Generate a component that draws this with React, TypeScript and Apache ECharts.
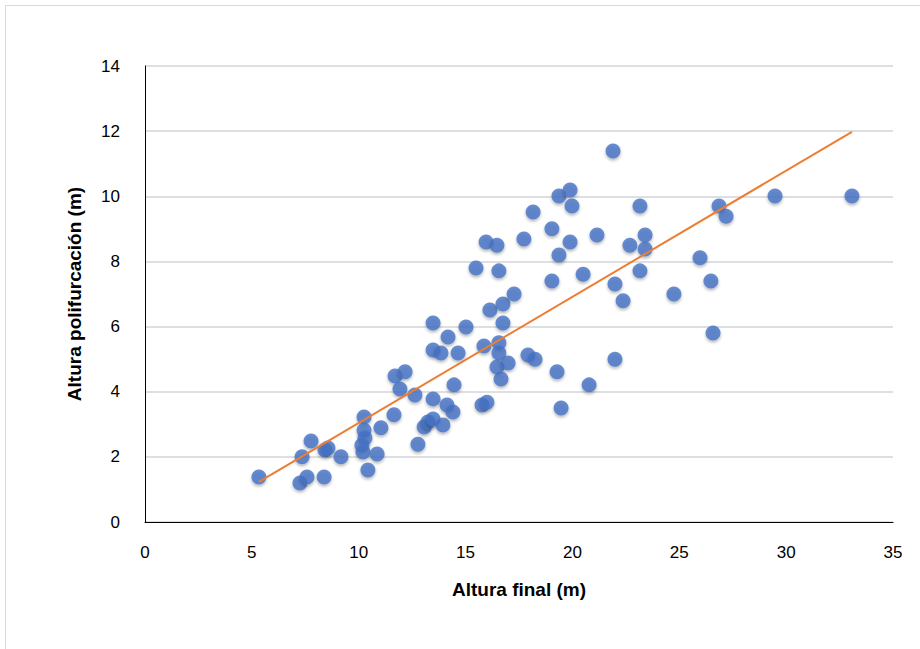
import React, { useEffect, useRef } from "react";
import * as echarts from "echarts";

const alturaFinal = [
  5.33, 7.25, 7.58, 7.35, 7.77, 8.38, 8.42, 8.56, 9.17, 10.25,
  10.25, 10.29, 10.15, 10.2, 10.86, 10.43, 11.04, 11.65, 11.7, 12.17,
  11.93, 12.63, 12.77, 13.06, 13.24, 13.48, 13.94, 13.48, 14.13, 14.41,
  14.46, 14.18, 13.48, 13.85, 14.65, 13.48, 15.02, 15.49, 15.77, 16.0,
  15.86, 15.96, 16.14, 16.47, 16.56, 16.56, 16.56, 16.47, 16.66, 16.75,
  16.75, 16.99, 17.27, 17.73, 17.92, 18.25, 18.16, 19.04, 19.04, 19.28,
  19.37, 19.37, 19.47, 19.89, 19.98, 19.89, 20.5, 20.78, 21.15, 21.9,
  21.99, 21.99, 22.37, 22.69, 23.16, 23.16, 23.4, 23.4, 24.75, 25.97,
  26.48, 26.58, 26.86, 27.19, 29.48, 33.08,
];
const alturaPolifurcacion = [
  1.38, 1.2, 1.38, 2.0, 2.49, 1.38, 2.21, 2.27, 2.0, 3.22,
  2.82, 2.58, 2.36, 2.15, 2.09, 1.6, 2.89, 3.29, 4.48, 4.61,
  4.08, 3.9, 2.39, 2.92, 3.07, 3.16, 2.98, 3.78, 3.59, 3.38,
  4.21, 5.68, 5.28, 5.19, 5.19, 6.11, 5.99, 7.8, 3.59, 3.68,
  5.4, 8.6, 6.51, 8.5, 7.71, 5.5, 5.19, 4.76, 4.39, 6.11,
  6.69, 4.88, 7.0, 8.69, 5.13, 5.0, 9.52, 9.0, 7.4, 4.61,
  10.01, 8.2, 3.5, 10.19, 9.7, 8.6, 7.61, 4.21, 8.81, 11.39,
  7.31, 5.0, 6.79, 8.5, 9.7, 7.71, 8.81, 8.38, 7.0, 8.11,
  7.4, 5.8, 9.7, 9.39, 10.01, 10.01,
];
const trendX = [5.33, 33.08];
const trendY = [1.23, 11.98];

const xTitle = "Altura final (m)";
const yTitle = "Altura polifurcación (m)";

export default function App() {
  const ref = useRef<HTMLDivElement>(null);
  useEffect(() => {
    if (!ref.current) return;
    const chart = echarts.init(ref.current, null, { renderer: "svg" });
    const font = "'Liberation Sans', Arial, sans-serif";
    chart.setOption({
      animation: false,
      backgroundColor: "#ffffff",
      graphic: [
        {
          type: "rect",
          shape: { x: 5.5, y: 5.5, width: 940, height: 660 },
          style: { fill: "none", stroke: "#D9D9D9", lineWidth: 1 },
          silent: true,
        },
      ],
      grid: { left: 145, right: 27, top: 66, bottom: 127 },
      xAxis: {
        type: "value",
        min: 0,
        max: 35,
        interval: 5,
        name: xTitle,
        nameLocation: "middle",
        nameGap: 58,
        nameTextStyle: { fontFamily: font, fontSize: 19, fontWeight: "bold", color: "#000" },
        axisLine: { show: true, onZero: false, lineStyle: { color: "#000", width: 1 } },
        axisTick: { show: false },
        splitLine: { show: false },
        axisLabel: { fontFamily: font, fontSize: 17, color: "#000", margin: 22 },
      },
      yAxis: {
        type: "value",
        min: 0,
        max: 14,
        interval: 2,
        name: yTitle,
        nameLocation: "middle",
        nameGap: 61,
        nameTextStyle: { fontFamily: font, fontSize: 19, fontWeight: "bold", color: "#000" },
        axisLine: { show: true, lineStyle: { color: "#000", width: 1 } },
        axisTick: { show: false },
        splitLine: { show: true, lineStyle: { color: "#DDDFE3", width: 2 } },
        axisLabel: { fontFamily: font, fontSize: 17, color: "#000", margin: 25 },
      },
      series: [
        {
          type: "scatter",
          data: alturaFinal.map((x, i) => [x, alturaPolifurcacion[i]]),
          symbolSize: 15,
          itemStyle: {
            color: "#4472C4",
            shadowBlur: 3,
            shadowColor: "rgba(0,0,0,0.35)",
            shadowOffsetY: 2,
          },
          z: 2,
        },
        {
          type: "line",
          data: trendX.map((x, i) => [x, trendY[i]]),
          showSymbol: false,
          symbol: "none",
          lineStyle: { color: "#ED7D31", width: 2 },
          z: 3,
        },
      ],
    });
    return () => chart.dispose();
  }, []);
  return (
    <div
      ref={ref}
      style={{ position: "absolute", left: 0, top: 0, width: 920, height: 649 }}
    />
  );
}
